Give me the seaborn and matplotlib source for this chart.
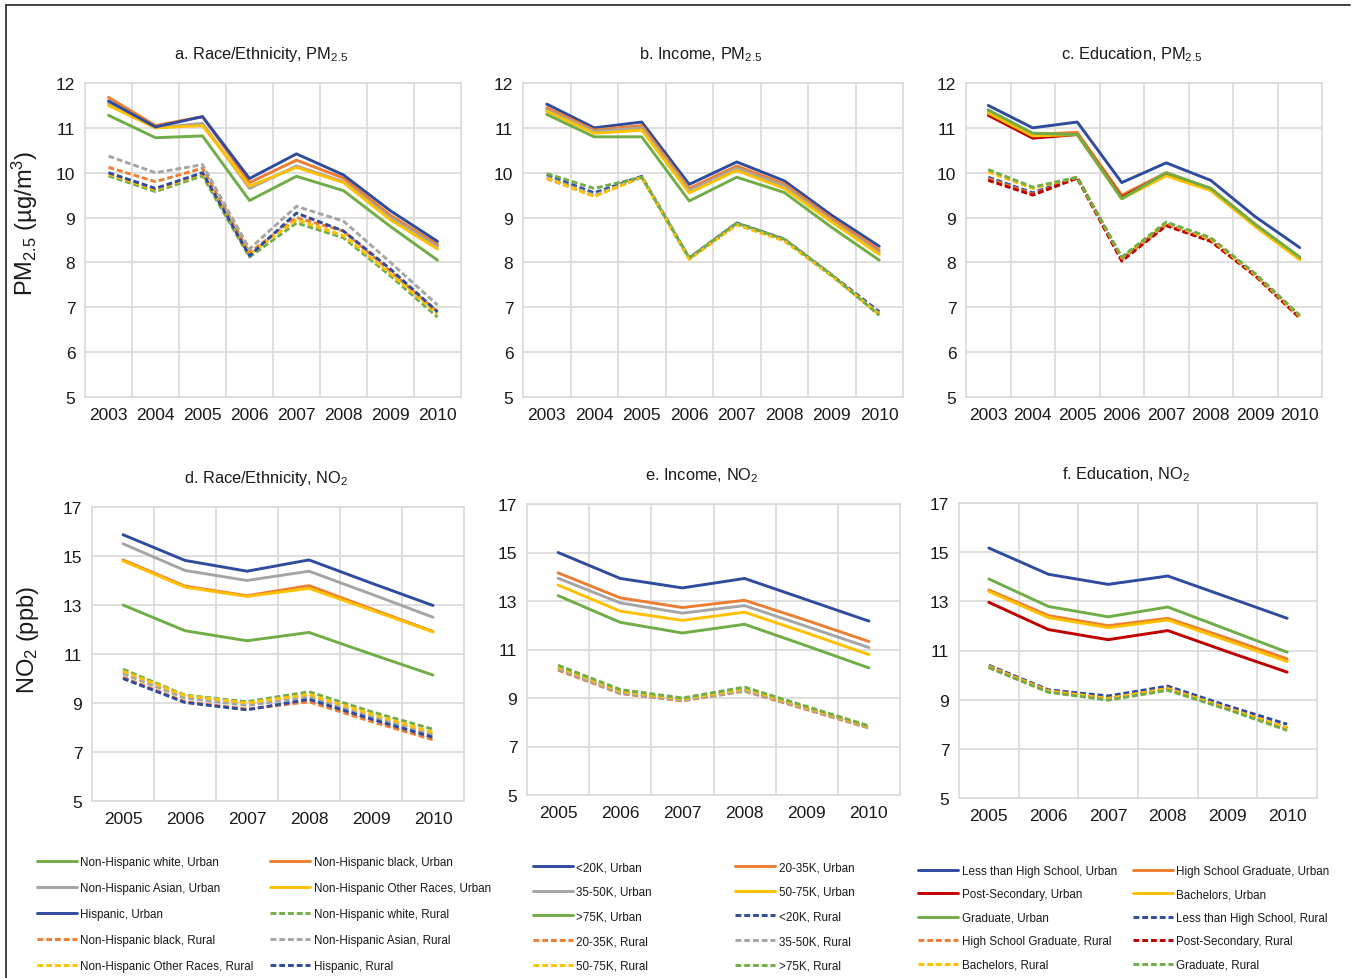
import matplotlib
matplotlib.use("Agg")
import matplotlib.pyplot as plt
import seaborn as sns
from matplotlib.lines import Line2D

sns.set_style("white")
plt.rcParams['font.family'] = ['Liberation Sans', 'DejaVu Sans']

W, H = 1357, 979

years_pm = [2003, 2004, 2005, 2006, 2007, 2008, 2009, 2010]
years_no2 = [2005, 2006, 2007, 2008, 2009, 2010]

BLUE = "#2f4b9f"
ORANGE = "#ed7d31"
GRAY = "#a5a5a5"
YELLOW = "#ffc000"
GREEN = "#70ad47"
RED = "#c00000"

race_groups = ["Non-Hispanic white", "Non-Hispanic black", "Non-Hispanic Asian",
               "Non-Hispanic Other Races", "Hispanic"]
race_colors = [GREEN, ORANGE, GRAY, YELLOW, BLUE]
income_groups = ["<20K", "20-35K", "35-50K", "50-75K", ">75K"]
income_colors = [BLUE, ORANGE, GRAY, YELLOW, GREEN]
edu_groups = ["Less than High School", "High School Graduate", "Post-Secondary",
              "Bachelors", "Graduate"]
edu_colors = [BLUE, ORANGE, RED, YELLOW, GREEN]

# PM2.5, race/ethnicity
race_pm_urban = {
    "Non-Hispanic white": [11.28, 10.78, 10.82, 9.38, 9.92, 9.60, 8.80, 8.05],
    "Non-Hispanic black": [11.68, 11.05, 11.25, 9.78, 10.28, 9.88, 9.05, 8.40],
    "Non-Hispanic Asian": [11.55, 11.00, 11.10, 9.65, 10.15, 9.80, 9.00, 8.35],
    "Non-Hispanic Other Races": [11.50, 11.00, 11.05, 9.70, 10.12, 9.78, 8.95, 8.30],
    "Hispanic": [11.60, 11.02, 11.25, 9.87, 10.42, 9.95, 9.15, 8.47],
}
race_pm_rural = {
    "Non-Hispanic white": [9.93, 9.58, 9.93, 8.12, 8.88, 8.55, 7.70, 6.78],
    "Non-Hispanic black": [10.12, 9.80, 10.10, 8.22, 9.00, 8.70, 7.80, 6.90],
    "Non-Hispanic Asian": [10.37, 10.00, 10.18, 8.30, 9.25, 8.92, 8.00, 7.05],
    "Non-Hispanic Other Races": [9.97, 9.62, 9.98, 8.18, 8.95, 8.60, 7.75, 6.85],
    "Hispanic": [10.00, 9.65, 10.00, 8.15, 9.10, 8.70, 7.85, 6.90],
}
# PM2.5, income
income_pm_urban = {
    "<20K": [11.53, 11.00, 11.13, 9.74, 10.24, 9.82, 9.05, 8.36],
    "20-35K": [11.45, 10.95, 11.05, 9.65, 10.15, 9.75, 8.98, 8.28],
    "35-50K": [11.40, 10.92, 11.00, 9.60, 10.10, 9.70, 8.93, 8.22],
    "50-75K": [11.37, 10.88, 10.95, 9.55, 10.05, 9.65, 8.90, 8.18],
    ">75K": [11.30, 10.80, 10.80, 9.37, 9.90, 9.56, 8.78, 8.05],
}
income_pm_rural = {
    "<20K": [9.95, 9.55, 9.92, 8.10, 8.88, 8.52, 7.72, 6.90],
    "20-35K": [9.87, 9.48, 9.90, 8.08, 8.85, 8.50, 7.70, 6.85],
    "35-50K": [9.90, 9.50, 9.90, 8.08, 8.86, 8.50, 7.70, 6.86],
    "50-75K": [9.88, 9.47, 9.90, 8.07, 8.84, 8.48, 7.70, 6.84],
    ">75K": [9.98, 9.65, 9.90, 8.10, 8.88, 8.52, 7.72, 6.82],
}
# PM2.5, education
edu_pm_urban = {
    "Less than High School": [11.50, 11.00, 11.13, 9.78, 10.22, 9.83, 9.02, 8.33],
    "High School Graduate": [11.35, 10.85, 10.90, 9.50, 10.00, 9.65, 8.85, 8.10],
    "Post-Secondary": [11.28, 10.77, 10.85, 9.45, 9.98, 9.62, 8.82, 8.08],
    "Bachelors": [11.33, 10.82, 10.85, 9.42, 9.93, 9.60, 8.80, 8.06],
    "Graduate": [11.40, 10.88, 10.85, 9.42, 10.00, 9.65, 8.85, 8.12],
}
edu_pm_rural = {
    "Less than High School": [9.90, 9.55, 9.90, 8.08, 8.85, 8.50, 7.72, 6.80],
    "High School Graduate": [9.87, 9.52, 9.88, 8.05, 8.83, 8.48, 7.70, 6.78],
    "Post-Secondary": [9.83, 9.50, 9.88, 8.03, 8.82, 8.47, 7.70, 6.76],
    "Bachelors": [10.02, 9.65, 9.90, 8.10, 8.88, 8.52, 7.73, 6.80],
    "Graduate": [10.07, 9.68, 9.90, 8.12, 8.90, 8.55, 7.75, 6.82],
}
# NO2, race/ethnicity
race_no2_urban = {
    "Non-Hispanic white": [13.00, 11.95, 11.54, 11.88, 11.00, 10.14],
    "Non-Hispanic black": [14.84, 13.77, 13.38, 13.79, 12.85, 11.92],
    "Non-Hispanic Asian": [15.50, 14.41, 14.00, 14.38, 13.45, 12.50],
    "Non-Hispanic Other Races": [14.80, 13.73, 13.35, 13.68, 12.80, 11.90],
    "Hispanic": [15.87, 14.82, 14.38, 14.84, 13.90, 12.98],
}
race_no2_rural = {
    "Non-Hispanic white": [10.38, 9.32, 9.05, 9.46, 8.65, 7.93],
    "Non-Hispanic black": [10.05, 9.05, 8.75, 9.05, 8.25, 7.50],
    "Non-Hispanic Asian": [10.20, 9.20, 8.90, 9.25, 8.45, 7.70],
    "Non-Hispanic Other Races": [10.30, 9.30, 9.00, 9.35, 8.55, 7.80],
    "Hispanic": [10.00, 9.02, 8.72, 9.15, 8.35, 7.60],
}
# NO2, income
income_no2_urban = {
    "<20K": [15.00, 13.93, 13.54, 13.93, 13.05, 12.17],
    "20-35K": [14.16, 13.13, 12.73, 13.03, 12.20, 11.33],
    "35-50K": [13.94, 12.92, 12.50, 12.81, 11.95, 11.08],
    "50-75K": [13.66, 12.58, 12.20, 12.54, 11.68, 10.79],
    ">75K": [13.22, 12.12, 11.68, 12.04, 11.15, 10.24],
}
income_no2_rural = {
    "<20K": [10.25, 9.25, 8.92, 9.35, 8.58, 7.80],
    "20-35K": [10.15, 9.18, 8.88, 9.28, 8.52, 7.76],
    "35-50K": [10.20, 9.20, 8.90, 9.30, 8.55, 7.78],
    "50-75K": [10.28, 9.28, 8.95, 9.38, 8.60, 7.82],
    ">75K": [10.35, 9.35, 9.00, 9.45, 8.65, 7.85],
}
# NO2, education
edu_no2_urban = {
    "Less than High School": [15.17, 14.10, 13.69, 14.03, 13.17, 12.31],
    "High School Graduate": [13.46, 12.42, 12.01, 12.31, 11.50, 10.66],
    "Post-Secondary": [12.96, 11.85, 11.44, 11.81, 10.95, 10.12],
    "Bachelors": [13.40, 12.34, 11.93, 12.24, 11.40, 10.55],
    "Graduate": [13.91, 12.79, 12.37, 12.77, 11.85, 10.93],
}
edu_no2_rural = {
    "Less than High School": [10.40, 9.40, 9.15, 9.55, 8.75, 8.00],
    "High School Graduate": [10.35, 9.35, 9.05, 9.45, 8.65, 7.85],
    "Post-Secondary": [10.33, 9.33, 9.03, 9.43, 8.63, 7.83],
    "Bachelors": [10.35, 9.35, 9.05, 9.45, 8.65, 7.85],
    "Graduate": [10.30, 9.30, 8.98, 9.38, 8.60, 7.75],
}

# axes rectangles in pixels: left, right, top, bottom
boxes = {
    "a": (85, 461, 84, 398), "b": (523, 903, 84, 398), "c": (966, 1322, 84, 398),
    "d": (92, 464, 508, 802), "e": (527, 900, 505, 796), "f": (959, 1317, 504, 799),
}

panels = [
    ("a", "a. Race/Ethnicity, $\\mathregular{PM_{2.5}}$", years_pm, race_pm_urban, race_pm_rural, race_groups, race_colors, (5, 12), 1),
    ("b", "b. Income, $\\mathregular{PM_{2.5}}$", years_pm, income_pm_urban, income_pm_rural, income_groups, income_colors, (5, 12), 1),
    ("c", "c. Education, $\\mathregular{PM_{2.5}}$", years_pm, edu_pm_urban, edu_pm_rural, edu_groups, edu_colors, (5, 12), 1),
    ("d", "d. Race/Ethnicity, $\\mathregular{NO_2}$", years_no2, race_no2_urban, race_no2_rural, race_groups, race_colors, (5, 17), 2),
    ("e", "e. Income, $\\mathregular{NO_2}$", years_no2, income_no2_urban, income_no2_rural, income_groups, income_colors, (5, 17), 2),
    ("f", "f. Education, $\\mathregular{NO_2}$", years_no2, edu_no2_urban, edu_no2_rural, edu_groups, edu_colors, (5, 17), 2),
]

# legend columns (x of handle start, centre of first row, row pitch) in pixels
legend_pos = {
    "d": ((37, 270), 864, 25.7),
    "e": ((533, 735), 869.5, 24.3),
    "f": ((918, 1133), 873, 23.2),
}

DASH = (2.0, 1.0)
LW = 2.1
LEG_SIZE = 8.4
LEG_PX = LEG_SIZE * 100 / 72

fig = plt.figure(figsize=(W / 100, H / 100), dpi=100)

for key, title, years, urban, rural, groups, colors, ylim, ystep in panels:
    l, r, t, b = boxes[key]
    ax = fig.add_axes([l / W, 1 - b / H, (r - l) / W, (b - t) / H])
    handles = []
    for g, c in zip(groups, colors):
        sns.lineplot(x=years, y=urban[g], color=c, lw=LW, ax=ax)
        handles.append(Line2D([], [], color=c, lw=LW, label=f"{g}, Urban"))
    for g, c in zip(groups, colors):
        sns.lineplot(x=years, y=rural[g], color=c, lw=LW, ax=ax, dashes=False)
        ax.lines[-1].set_linestyle((0, DASH))
        handles.append(Line2D([], [], color=c, lw=LW, linestyle=(0, DASH), label=f"{g}, Rural"))

    ax.set_xlim(years[0] - 0.5, years[-1] + 0.5)
    ax.set_ylim(*ylim)
    ax.set_xticks(years)
    ax.set_xticks([y + 0.5 for y in years[:-1]], minor=True)
    ax.set_yticks(range(ylim[0], ylim[1] + 1, ystep))
    ax.grid(False)
    ax.grid(True, which="minor", axis="x", color="#d9d9d9", lw=1.2)
    ax.grid(True, which="major", axis="y", color="#d9d9d9", lw=1.2)
    ax.set_axisbelow(True)
    for s in ax.spines.values():
        s.set_color("#d9d9d9")
        s.set_linewidth(1.2)
    ax.tick_params(which="both", length=0, labelsize=12.5, colors="#1a1a1a", pad=7)
    ax.set_xlabel("")
    ax.set_ylabel("")
    ax.set_title(title, fontsize=11.8, pad=18, color="#1a1a1a", x=0.5 - 12 / (r - l))

    if key in legend_pos:
        (x1, x2), yrow, pitch = legend_pos[key]
        cols = [handles[0::2], handles[1::2]]
        for x0, hs in zip((x1, x2), cols):
            leg = fig.legend(handles=hs, loc="upper left",
                             bbox_to_anchor=(x0 / W, 1 - (yrow - 0.62 * LEG_PX) / H),
                             frameon=False, ncol=1, borderpad=0, borderaxespad=0,
                             handlelength=40 / LEG_PX, handletextpad=0.3,
                             labelspacing=(pitch - 1.0 * LEG_PX) / LEG_PX,
                             prop={"size": LEG_SIZE})
            for txt in leg.get_texts():
                txt.set_color("#1a1a1a")

fig.text(25 / W, 1 - 223 / H, "$\\mathregular{PM_{2.5}}$ (µg/m$\\mathregular{^3}$)", rotation=90,
         ha="center", va="center", fontsize=17, color="#1a1a1a")
fig.text(28 / W, 1 - 640 / H, "$\\mathregular{NO_2}$ (ppb)", rotation=90,
         ha="center", va="center", fontsize=17, color="#1a1a1a")

# thin frame along the top and left edges of the picture
fig.add_artist(Line2D([6 / W, 1350 / W], [1 - 6 / H, 1 - 6 / H], color="#333333", lw=1.3))
fig.add_artist(Line2D([6 / W, 6 / W], [1 - 6 / H, 0], color="#333333", lw=1.3))

fig.savefig("out.png", dpi=100)
